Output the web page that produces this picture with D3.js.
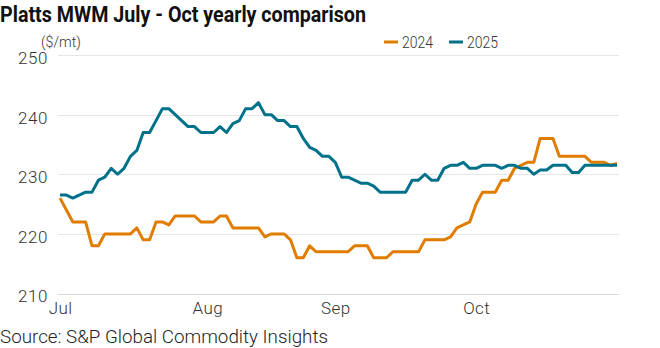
<!DOCTYPE html>
<html><head><meta charset="utf-8">
<script src="https://cdn.jsdelivr.net/npm/d3@7"></script>
<style>
html,body{margin:0;padding:0;background:#fff;}
svg{display:block;font-family:Roboto,"Noto Sans",sans-serif;}
</style></head>
<body><svg id="c" width="660" height="348"></svg>
<script>
const title = "Platts MWM July - Oct yearly comparison";
const unitLabel = "($/mt)";
const source = "Source: S&P Global Commodity Insights";
const seriesNames = ["2024", "2025"];
const monthLabels = ["Jul", "Aug", "Sep", "Oct"];
const monthIndex = [0, 23, 43, 65];
const yTicks = [210, 220, 230, 240, 250];

const values2024 = [
 226, 224, 222, 222, 222, 218, 218, 220, 220, 220,
 220, 220, 221, 219, 219, 222, 222, 221.5, 223, 223,
 223, 223, 222, 222, 222, 223, 223, 221, 221, 221,
 221, 221, 219.5, 220, 220, 220, 219, 216, 216, 218,
 217, 217, 217, 217, 217, 217, 218, 218, 218, 216,
 216, 216, 217, 217, 217, 217, 217, 219, 219, 219,
 219, 219.5, 221, 221.5, 222, 225, 227, 227, 227, 229,
 229, 231, 231.5, 232, 232, 236, 236, 236, 233, 233,
 233, 233, 233, 232, 232, 232, 231.5, 231.8
];
const values2025 = [
 226.5, 226.5, 226, 226.5, 227, 227, 229, 229.5, 231, 230,
 231, 233, 234, 237, 237, 239, 241, 241, 240, 239,
 238, 238, 237, 237, 237, 238, 237, 238.5, 239, 241,
 241, 242, 240, 240, 239, 239, 238, 238, 236, 234.5,
 234, 233, 233, 232, 229.5, 229.5, 229, 228.5, 228.5, 228,
 227, 227, 227, 227, 227, 229, 229, 230, 229, 229,
 231, 231.5, 231.5, 232, 231, 231, 231.5, 231.5, 231.5, 231,
 231.5, 231.5, 231, 231, 230, 230.7, 230.7, 231.5, 231.5, 231.5,
 230.3, 230.3, 231.5, 231.5, 231.5, 231.5, 231.5, 231.5
];
const colors = ["#E07C00", "#00718A"];

const svg = d3.select("#c");
const x = d3.scaleLinear().domain([0, values2024.length - 1]).range([60, 617]);
const y = d3.scaleLinear().domain([210, 250]).range([293.5, 55]);
const FONT = "Roboto,'Noto Sans',sans-serif";

// title
svg.append("text").attr("x", 0).attr("y", 22).attr("font-size", 22).attr("font-weight", 700)
  .attr("fill", "#111").attr("textLength", 366).attr("lengthAdjust", "spacingAndGlyphs").text(title);

// unit label
svg.append("text").attr("x", 41).attr("y", 47).attr("font-size", 15.5).attr("font-weight", 300)
  .attr("fill", "#333").attr("textLength", 40).attr("lengthAdjust", "spacingAndGlyphs").text(unitLabel);

// gridlines
svg.append("g").selectAll("line").data(yTicks).join("line")
  .attr("x1", 58).attr("x2", 619)
  .attr("y1", d => Math.round(y(d)) + 0.5).attr("y2", d => Math.round(y(d)) + 0.5)
  .attr("stroke", d => d === 210 ? "#d8d8d8" : "#e6e6e6").attr("stroke-width", 1);

// y axis labels
const yAxis = d3.axisLeft(y).tickValues(yTicks).tickSize(0).tickPadding(0);
const gy = svg.append("g").attr("transform", "translate(48,3)").call(yAxis);
gy.select(".domain").remove();
gy.selectAll("text").attr("font-size", 17).attr("font-weight", 300).attr("fill", "#333")
  .attr("letter-spacing", 0.6).attr("font-family", FONT);

// x axis labels
const xAxis = d3.axisBottom(x).tickValues(monthIndex).tickFormat((d, i) => monthLabels[i]).tickSize(0).tickPadding(0);
const gx = svg.append("g").attr("transform", "translate(0,302)").call(xAxis);
gx.select(".domain").remove();
gx.selectAll("text").attr("font-size", 17).attr("font-weight", 300).attr("fill", "#333")
  .attr("letter-spacing", 0.4).attr("font-family", FONT);

// lines
const line = d3.line().x((d, i) => x(i)).y(d => y(d)).curve(d3.curveLinear);
[values2024, values2025].forEach((vals, si) => {
  svg.append("path").datum(vals).attr("d", line).attr("fill", "none")
    .attr("stroke", colors[si]).attr("stroke-width", 3).attr("stroke-linejoin", "round").attr("stroke-linecap", "butt");
});

// legend
const legendX = [384, 449];
seriesNames.forEach((n, i) => {
  const g = svg.append("g").attr("transform", `translate(${legendX[i]},0)`);
  g.append("line").attr("x1", 0).attr("x2", 14).attr("y1", 42).attr("y2", 42)
    .attr("stroke", colors[i]).attr("stroke-width", 3);
  g.append("text").attr("x", 18).attr("y", 48).attr("font-size", 16.5).attr("font-weight", 300)
    .attr("fill", "#333").attr("textLength", 31).attr("lengthAdjust", "spacingAndGlyphs").text(n);
});

// source
svg.append("text").attr("x", 0).attr("y", 343).attr("font-size", 17.5).attr("font-weight", 300)
  .attr("fill", "#222").attr("textLength", 328).attr("lengthAdjust", "spacingAndGlyphs").text(source);
</script></body></html>
